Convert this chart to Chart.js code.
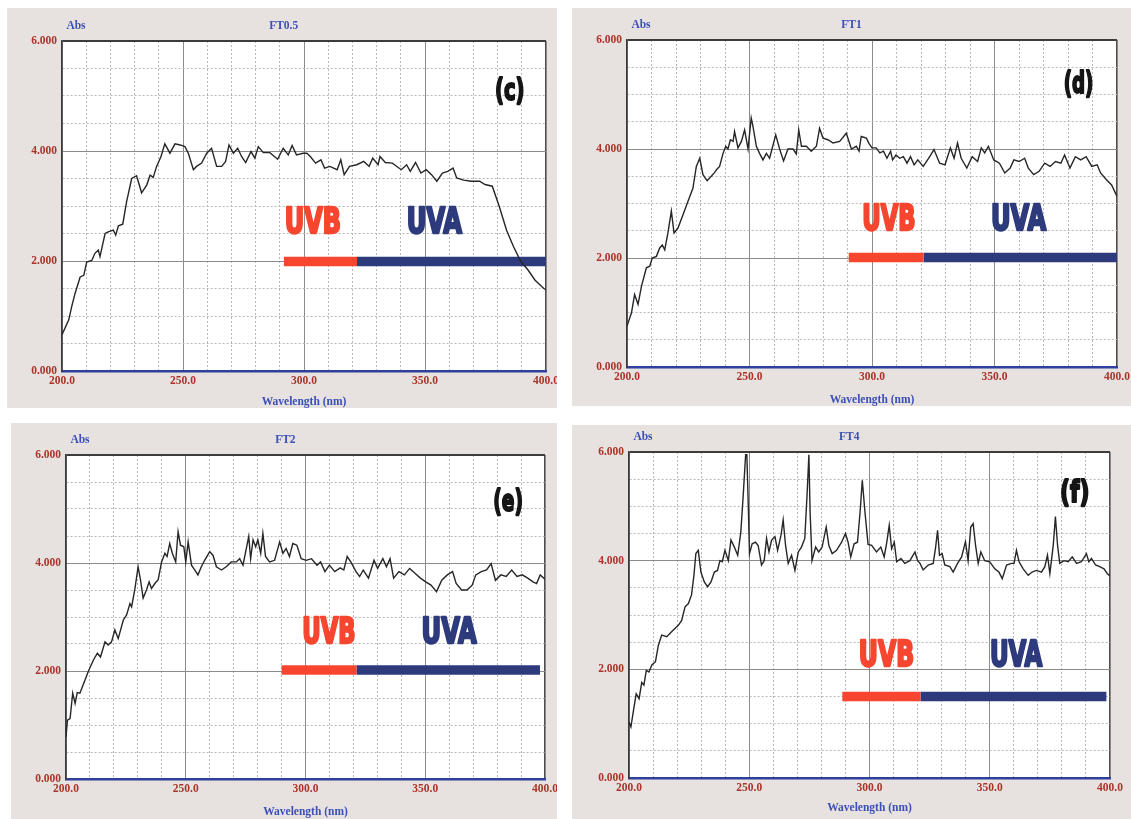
<!DOCTYPE html>
<html lang="en">
<head>
  <meta charset="UTF-8" />
  <title>UV absorbance spectra FT0.5 - FT4</title>
  <script src="https://cdn.jsdelivr.net/npm/chart.js@4.4.0/dist/chart.umd.min.js"></script>
  <style>
    body { margin: 0; background: #fff; width: 1131px; height: 819px; overflow: hidden; position: relative; }
    canvas { position: absolute; background: #e7e2e0; }
  </style>
</head>
<body>
  <canvas id="panelC"></canvas>
  <canvas id="panelD"></canvas>
  <canvas id="panelE"></canvas>
  <canvas id="panelF"></canvas>

  <script>
    // wavelength (nm) / absorbance pairs
    const wlC = [200, 202.8, 204, 205.4, 207.5, 209, 210.2, 212.3, 213.6, 215, 215.7, 217.8, 219.1, 221.2, 222.2, 223.3, 225.1, 226.7, 228.8, 230.8, 232.9, 235, 236.4, 237.7, 239.1, 240.9, 242.5, 244.6, 246.7, 248.8, 250.8, 252.2, 254.3, 255.6, 257.7, 259.8, 261.8, 263.9, 266, 267.6, 269, 270.8, 272.6, 274.2, 275.9, 278.1, 279.7, 281.1, 283.2, 285.9, 289.1, 291.4, 293.5, 295.1, 296.9, 299.6, 301.2, 302.6, 304.8, 307, 308.5, 310.7, 313.7, 315.2, 316.6, 318.8, 321.8, 324.7, 326.9, 328.4, 330.6, 331.4, 333.6, 336.5, 340.2, 342.4, 343.9, 346.1, 348.3, 350.5, 352.7, 354.9, 357.2, 359.4, 361.6, 363.1, 366, 369, 372.6, 374.8, 377.8, 380.7, 383.7, 386.6, 389.6, 392.5, 395.5, 399.1, 400];
    const absC = [0.66, 0.93, 1.17, 1.41, 1.71, 1.74, 1.98, 2.01, 2.14, 2.2, 2.08, 2.5, 2.53, 2.56, 2.47, 2.64, 2.67, 3.08, 3.5, 3.55, 3.24, 3.38, 3.56, 3.52, 3.72, 3.9, 4.13, 3.96, 4.13, 4.11, 4.08, 3.96, 3.66, 3.72, 3.78, 3.96, 4.05, 3.72, 3.72, 3.81, 4.11, 3.96, 4.05, 3.9, 3.79, 3.99, 3.87, 4.08, 3.97, 3.97, 3.85, 4.05, 3.93, 4.1, 3.93, 3.96, 3.96, 3.9, 3.78, 3.84, 3.69, 3.72, 3.66, 3.84, 3.57, 3.72, 3.75, 3.81, 3.72, 3.87, 3.75, 3.9, 3.79, 3.78, 3.66, 3.75, 3.63, 3.79, 3.6, 3.66, 3.57, 3.45, 3.6, 3.63, 3.69, 3.51, 3.47, 3.45, 3.45, 3.39, 3.36, 2.99, 2.56, 2.26, 1.99, 1.84, 1.65, 1.5, 1.48];

    const wlD = [200, 201.8, 203.1, 204.5, 205.9, 207.9, 209.3, 210.3, 212, 213.3, 214.4, 215.4, 216.7, 218.1, 219.2, 220.8, 222.9, 224.9, 226.9, 228.3, 229.7, 231, 232.7, 234.4, 235.8, 236.7, 237.8, 239.2, 240.3, 241.2, 242.2, 243.3, 243.9, 245.3, 246.7, 248, 249.4, 250.7, 251.4, 252.8, 254.1, 255.5, 256.9, 258.2, 260.7, 262.3, 263.9, 265.7, 267.8, 269.1, 270.1, 271.2, 273.2, 275.2, 277.3, 278.6, 280, 282, 284.1, 286.8, 289.5, 291.6, 293.6, 294.7, 295.6, 297.7, 298.8, 300, 301.7, 303.2, 304.7, 306.1, 307.6, 308.4, 309.8, 311.3, 312.8, 314.3, 315.7, 317.2, 318.7, 320.9, 323.1, 325.3, 327.6, 329.8, 332, 333.5, 334.9, 336.4, 338.7, 340.9, 343.1, 344.6, 346, 347.5, 349.7, 352, 354.2, 356.4, 357.9, 360.1, 362.3, 363.8, 366, 368.2, 370.5, 372.7, 374.9, 377.1, 378.6, 380.8, 383, 385.2, 387.4, 389.7, 391.9, 393.3, 395.6, 397.8, 400];
    const absD = [0.75, 0.99, 1.33, 1.15, 1.48, 1.82, 1.85, 2.0, 2.03, 2.18, 2.24, 2.15, 2.46, 2.86, 2.46, 2.55, 2.8, 3.04, 3.28, 3.68, 3.83, 3.53, 3.42, 3.5, 3.57, 3.63, 3.68, 3.92, 4.05, 4.0, 4.17, 4.14, 4.32, 4.02, 4.14, 4.35, 4.0, 4.57, 4.42, 4.05, 3.92, 3.8, 3.92, 3.83, 4.26, 4.0, 3.78, 4.0, 4.0, 3.91, 4.35, 4.05, 4.05, 3.96, 4.05, 4.38, 4.2, 4.17, 4.11, 4.14, 4.29, 4.0, 4.05, 3.96, 4.23, 4.2, 4.1, 4.02, 4.02, 3.93, 3.96, 3.83, 3.96, 3.8, 3.89, 3.83, 3.86, 3.74, 3.86, 3.71, 3.8, 3.68, 3.83, 3.99, 3.74, 3.71, 4.02, 3.83, 4.11, 3.83, 3.65, 3.86, 3.77, 4.02, 3.93, 4.05, 3.8, 3.74, 3.56, 3.65, 3.8, 3.77, 3.83, 3.65, 3.53, 3.59, 3.74, 3.68, 3.77, 3.74, 3.89, 3.65, 3.86, 3.8, 3.86, 3.68, 3.71, 3.56, 3.44, 3.34, 3.13];

    const wlE = [200, 200.6, 201.7, 202.8, 203.8, 204.7, 205.8, 207.9, 209.3, 211.4, 213.1, 214.4, 216.3, 217.6, 219, 220.4, 221.8, 223.9, 225.3, 226.7, 227.4, 228.8, 230.1, 231.1, 232.2, 233.6, 234.7, 235.7, 237.1, 238.5, 239.9, 241.3, 242.2, 243.3, 244.4, 245.8, 246.8, 247.8, 249.2, 250, 251, 252.4, 253.8, 255.1, 256.5, 257.9, 260, 261.4, 262.8, 264.9, 266.9, 269, 271.1, 272.5, 273.9, 275.3, 276.3, 277.1, 278.1, 279.2, 280.1, 281.3, 282.2, 283.3, 285, 287.1, 289.2, 290.6, 291.9, 293.3, 294.7, 296.4, 298.2, 300.3, 302.5, 304.8, 306.3, 308.1, 310, 312.2, 314.5, 316, 317.4, 318.9, 321.1, 322.6, 324.1, 326.3, 328.6, 330.1, 332.3, 333.8, 335.3, 336.8, 339, 341.3, 343.5, 345.7, 348, 350.2, 352.4, 354.7, 356.9, 359.2, 361.4, 362.9, 365.2, 367.4, 369.6, 371.1, 373.4, 375.6, 377.5, 379.3, 381.6, 383.8, 386.1, 388.3, 390.5, 392.8, 395, 396.5, 398, 400];
    const absE = [0.78, 1.09, 1.12, 1.59, 1.4, 1.6, 1.59, 1.83, 1.99, 2.2, 2.33, 2.26, 2.54, 2.48, 2.54, 2.76, 2.6, 2.94, 3.04, 3.25, 3.19, 3.53, 3.93, 3.69, 3.35, 3.5, 3.65, 3.53, 3.62, 3.69, 4.02, 4.18, 4.12, 4.36, 4.18, 4.02, 4.58, 4.33, 4.3, 4.02, 4.39, 3.96, 3.87, 3.78, 3.93, 4.05, 4.21, 4.14, 3.93, 3.87, 3.93, 4.02, 4.02, 4.08, 3.96, 4.27, 4.49, 4.08, 4.43, 4.3, 4.43, 4.18, 4.55, 4.12, 4.02, 4.05, 4.39, 4.18, 4.27, 4.12, 4.36, 4.33, 4.08, 4.05, 4.08, 3.96, 4.02, 3.84, 3.96, 3.84, 3.91, 3.87, 4.12, 4.02, 3.84, 3.75, 3.87, 3.72, 4.05, 3.9, 4.08, 3.93, 4.08, 3.72, 3.84, 3.78, 3.9, 3.81, 3.72, 3.65, 3.59, 3.47, 3.68, 3.78, 3.84, 3.62, 3.5, 3.5, 3.59, 3.78, 3.84, 3.87, 3.99, 3.68, 3.78, 3.75, 3.87, 3.75, 3.78, 3.72, 3.65, 3.62, 3.78, 3.7];

    const wlF = [200, 200.8, 202, 203, 204.2, 205.3, 206.2, 207.2, 208.3, 209.5, 211, 212.2, 213.6, 215.7, 217.7, 219.1, 220.5, 221.9, 223.3, 224.7, 226, 227, 227.8, 228.8, 229.9, 231.3, 232.7, 234.1, 235.5, 236.8, 237.8, 238.8, 239.9, 241.3, 242.4, 243.8, 245.2, 246.5, 247.5, 248.5, 249, 249.6, 250.1, 251.2, 252.6, 253.7, 255.1, 256.2, 257.2, 258.2, 259.3, 260.7, 261.8, 263.2, 264.1, 265.1, 266.2, 267.6, 269, 270.4, 271.7, 273.1, 274.1, 274.8, 275.3, 276.1, 277.6, 278.9, 280.3, 282, 283.1, 284.5, 286.3, 288.4, 290, 291.1, 292.2, 293.6, 295, 296.1, 297, 298.1, 299.4, 300.9, 302.9, 304.7, 306.1, 307.2, 308.2, 309.2, 310.3, 311.3, 313.1, 314.7, 316.8, 318.9, 320, 321, 322.3, 324.4, 326.5, 327.5, 328.3, 329.1, 330.2, 331.3, 333.4, 334.8, 336.6, 338.3, 339.9, 341, 342.1, 343.1, 344.1, 345.2, 346.3, 347.9, 350, 352.1, 353.8, 355.2, 357, 359.1, 360.1, 361.1, 362.2, 363.9, 366, 367.6, 369.4, 371.5, 372.9, 374, 375, 376.4, 377.3, 378.2, 379.1, 380.9, 382.6, 384.3, 386.1, 388.1, 390.2, 391.2, 392.3, 394, 395.7, 397.5, 398.9, 400];
    const absF = [1.03, 0.94, 1.28, 1.55, 1.46, 1.76, 1.71, 1.98, 1.95, 2.08, 2.14, 2.44, 2.63, 2.6, 2.69, 2.75, 2.81, 2.9, 3.15, 3.21, 3.37, 3.73, 4.13, 4.19, 3.79, 3.61, 3.52, 3.61, 3.79, 3.82, 4.0, 3.98, 4.19, 4.0, 4.38, 4.25, 4.1, 4.53, 5.21, 5.95, 5.95, 5.02, 4.13, 4.31, 4.34, 4.28, 3.92, 4.0, 4.41, 4.16, 4.38, 4.44, 4.19, 4.47, 4.75, 4.28, 3.95, 4.1, 3.82, 4.16, 4.25, 4.41, 5.27, 5.95, 4.9, 4.0, 4.25, 4.16, 4.25, 4.62, 4.28, 4.13, 4.19, 4.34, 4.5, 4.34, 4.07, 4.31, 4.34, 4.9, 5.48, 4.9, 4.3, 4.28, 4.16, 4.25, 4.07, 4.34, 4.65, 4.22, 4.34, 3.98, 4.04, 3.95, 4.0, 4.16, 4.0, 3.95, 3.83, 3.92, 3.95, 4.25, 4.56, 4.1, 4.13, 3.92, 3.89, 3.79, 3.95, 4.07, 4.35, 4.0, 4.62, 4.68, 4.28, 3.95, 4.16, 4.0, 3.98, 3.85, 3.79, 3.67, 3.92, 3.95, 3.95, 4.19, 3.98, 3.85, 3.73, 3.79, 3.82, 3.79, 3.89, 4.1, 3.76, 4.28, 4.81, 4.28, 3.95, 4.0, 3.98, 4.07, 3.95, 3.98, 4.13, 3.98, 4.04, 3.92, 3.89, 3.85, 3.76, 3.72];

    // one entry per panel, order c, d, e, f
    const sampleNames = ['FT0.5', 'FT1', 'FT2', 'FT4'];
    const panelLetters = ['(c)', '(d)', '(e)', '(f)'];
    // UVB / UVA band bars (nm) and the absorbance level they sit on
    const uvbStart = [291.7, 290.5, 290, 288.7];
    const uvSplit = [321.9, 321.1, 321.3, 321.2];
    const uvaEnd = [399.9, 400, 397.9, 398.5];
    const bandLevel = [1.99, 2.01, 2.02, 1.5];
    // axis ticks
    const xMin = 200, xMax = 400, xStep = 10, xLabelEvery = 50;
    const yMin = 0, yMax = 6, yStep = 0.5, yLabelEvery = 2;

    const wlSets = [wlC, wlD, wlE, wlF];
    const absSets = [absC, absD, absE, absF];

    // layout of the four scanned panels (page pixels)
    const layouts = [
      { id: 'panelC', box: [7, 8, 550, 400],  plot: [62, 41, 546, 371],  titlePad: 0,
        uvb: [291.7, 2.51, 58], uva: [342.1, 2.51, 57], letter: [385, 5.08] },
      { id: 'panelD', box: [572, 8, 559, 398], plot: [627, 40, 1117, 367], titlePad: 0,
        uvb: [295.7, 2.52, 55], uva: [348.2, 2.52, 57], letter: [384.3, 5.18] },
      { id: 'panelE', box: [11, 423, 546, 396], plot: [66, 455, 545, 779], titlePad: 1.5,
        uvb: [298.3, 2.52, 55], uva: [348.1, 2.52, 57], letter: [384.6, 5.12] },
      { id: 'panelF', box: [572, 425, 559, 394], plot: [629, 452, 1110, 778], titlePad: 5,
        uvb: [295.2, 2.06, 57], uva: [349.7, 2.06, 54], letter: [385.3, 5.22] }
    ];

    const RED_LABEL = '#ab3329';
    const BLUE_LABEL = '#3b4fb6';
    const serifBold = { family: '"Liberation Serif", "DejaVu Serif", serif', size: 11.5, weight: 'bold', lineHeight: 1 };

    // white plotting area on the beige scan background
    const plotBg = {
      id: 'plotBg',
      beforeDraw(chart) {
        const a = chart.chartArea;
        chart.ctx.save();
        chart.ctx.fillStyle = '#ffffff';
        chart.ctx.fillRect(a.left, a.top, a.right - a.left, a.bottom - a.top);
        chart.ctx.restore();
      }
    };

    // draws heavy text squeezed to a given width (condensed poster lettering)
    function squeezed(ctx, text, x, y, width, font, color, align, stroke) {
      ctx.save();
      ctx.font = font;
      ctx.fillStyle = color;
      ctx.strokeStyle = color;
      ctx.lineJoin = 'round';
      ctx.textBaseline = align === 'center' ? 'middle' : 'alphabetic';
      const w = ctx.measureText(text).width + stroke;
      const k = width / w;
      ctx.translate(align === 'center' ? x - width / 2 : x, y);
      ctx.scale(k, 1);
      ctx.textAlign = 'left';
      ctx.translate(stroke / 2, 0);
      ctx.lineWidth = stroke;
      ctx.strokeText(text, 0, 0);
      ctx.fillText(text, 0, 0);
      ctx.restore();
    }

    const annotations = {
      id: 'annotations',
      afterDraw(chart, args, opts) {
        const { ctx, chartArea: a, scales } = chart;
        const L = opts.layout;
        const sx = scales.x, sy = scales.y;
        const poster = 'bold 35px "Liberation Sans Narrow", "DejaVu Sans Condensed", "Liberation Sans", sans-serif';

        squeezed(ctx, 'UVB', sx.getPixelForValue(L.uvb[0]), sy.getPixelForValue(L.uvb[1]), L.uvb[2], poster, '#f7462f', 'left', 2.4);
        squeezed(ctx, 'UVA', sx.getPixelForValue(L.uva[0]), sy.getPixelForValue(L.uva[1]), L.uva[2], poster, '#2d3a7c', 'left', 2.4);
        squeezed(ctx, opts.letter, sx.getPixelForValue(L.letter[0]), sy.getPixelForValue(L.letter[1]), 31,
          'bold 31px "DejaVu Sans", sans-serif', '#151515', 'center', 2.2);

        // header: "Abs" over the y axis and the sample name
        ctx.save();
        ctx.font = 'bold 11.5px "Liberation Serif", "DejaVu Serif", serif';
        ctx.fillStyle = BLUE_LABEL;
        ctx.textAlign = 'center';
        ctx.textBaseline = 'middle';
        ctx.fillText('Abs', a.left + 14, a.top - 15);
        ctx.fillText(opts.name, a.left + 0.458 * (a.right - a.left), a.top - 15);
        ctx.restore();
      }
    };

    function makeChart(L, i) {
      const canvas = document.getElementById(L.id);
      const [bx, by, bw, bh] = L.box;
      const [pl, pt, pr, pb] = L.plot;
      canvas.width = bw;
      canvas.height = bh;
      canvas.style.left = bx + 'px';
      canvas.style.top = by + 'px';

      const wl = wlSets[i], ab = absSets[i];
      const spectrum = wl.map((x, k) => ({ x: x, y: ab[k] }));
      const lvl = bandLevel[i];

      return new Chart(canvas, {
        type: 'line',
        data: {
          datasets: [
            { data: spectrum, borderColor: '#262626', borderWidth: 1.4, pointRadius: 0, tension: 0, order: 0 },
            { data: [{ x: uvbStart[i], y: lvl }, { x: uvSplit[i], y: lvl }], borderColor: '#f7462f',
              borderWidth: 9.5, borderCapStyle: 'butt', pointRadius: 0, order: 2 },
            { data: [{ x: uvSplit[i], y: lvl }, { x: uvaEnd[i], y: lvl }], borderColor: '#2d3a7c',
              borderWidth: 9.5, borderCapStyle: 'butt', pointRadius: 0, order: 2 }
          ]
        },
        options: {
          responsive: false,
          animation: false,
          events: [],
          layout: { padding: { top: pt - by, right: bx + bw - pr, left: 0, bottom: 0 } },
          plugins: {
            legend: { display: false },
            tooltip: { enabled: false },
            annotations: { layout: L, name: sampleNames[i], letter: panelLetters[i] }
          },
          scales: {
            x: {
              type: 'linear', min: xMin, max: xMax,
              ticks: {
                stepSize: xStep, autoSkip: false, maxRotation: 0, padding: 4,
                color: RED_LABEL, font: serifBold,
                callback: v => (v % xLabelEvery === 0 ? v.toFixed(1) : '')
              },
              grid: {
                drawTicks: false,
                color: c => (c.tick.value === xMax ? '#4d4d4d' : c.tick.value % xLabelEvery === 0 ? '#8c8c8c' : '#b7b7b7'),
                lineWidth: c => (c.tick.value === xMax ? 1.6 : 1)
              },
              border: {
                color: '#2e3f9c', width: 2.5,
                dash: c => (c.tick && c.tick.value % xLabelEvery !== 0 ? [2, 2] : [])
              },
              title: {
                display: true, text: 'Wavelength (nm)', color: BLUE_LABEL, font: serifBold,
                padding: { top: 0, bottom: L.titlePad }
              },
              afterFit: s => { s.height = by + bh - pb; s.paddingLeft = 0; s.paddingRight = 0; }
            },
            y: {
              min: yMin, max: yMax,
              ticks: {
                stepSize: yStep, autoSkip: false, padding: 5,
                color: RED_LABEL, font: serifBold,
                callback: v => (v % yLabelEvery === 0 ? v.toFixed(3) : '')
              },
              grid: {
                drawTicks: false,
                color: c => (c.tick.value === yMax ? '#3c3c3c' : c.tick.value % yLabelEvery === 0 ? '#8f8a88' : '#b7b7b7'),
                lineWidth: c => (c.tick.value === yMax ? 2 : 1)
              },
              border: {
                color: '#3a3a3a', width: 1.6,
                dash: c => (c.tick && c.tick.value % yLabelEvery !== 0 ? [2, 2] : [])
              },
              afterFit: s => { s.width = pl - bx; s.paddingTop = 0; s.paddingBottom = 0; }
            }
          }
        },
        plugins: [plotBg, annotations]
      });
    }

    layouts.forEach((L, i) => makeChart(L, i));
  </script>
</body>
</html>
